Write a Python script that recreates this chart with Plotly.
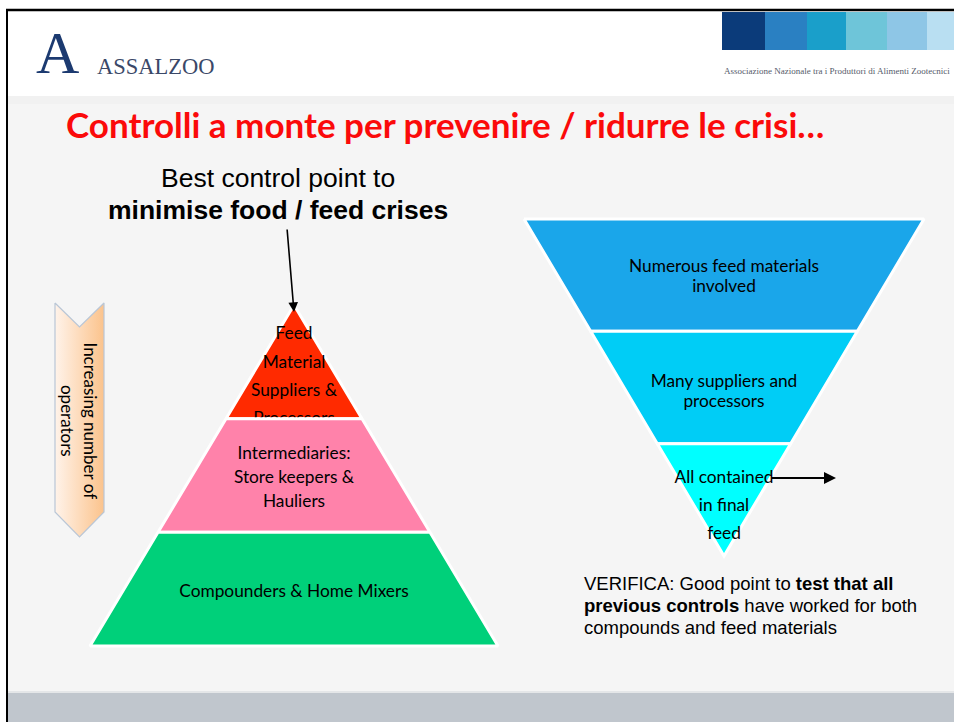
import plotly.graph_objects as go

# ---------------- data ----------------
pyramid_labels = [
    ["Feed", "Material", "Suppliers &", "Processors"],
    ["Intermediaries:", "Store keepers &", "Hauliers"],
    ["Compounders & Home Mixers"],
]
pyramid_colors = ["#ff2a00", "#ff82aa", "#00d07a"]

funnel_labels = [
    ["Numerous feed materials", "involved"],
    ["Many suppliers and", "processors"],
    ["All contained", "in final", "feed"],
]
funnel_colors = ["#1aa6ea", "#00cdf6", "#00ffff"]

header_bar_colors = ["#0b3b7a", "#2a80c2", "#1a9fca", "#6ec5d9", "#8ec6e6", "#b9dff2"]

title_text = "Controlli a monte per prevenire / ridurre le crisi…"
subtitle_lines = ["Best control point to", "<b>minimise food / feed crises</b>"]
side_arrow_text = "Increasing number of<br>operators"
verifica_lines = [
    "VERIFICA: Good point to <b>test that all</b>",
    "<b>previous controls</b> have worked for both",
    "compounds and feed materials",
]

# ---------------- layout constants ----------------
W, H = 954, 722
CAL = "Lato, 'Open Sans', sans-serif"
ARIAL = "'Liberation Sans', Arial, sans-serif"
SERIF = "'Liberation Serif', 'DejaVu Serif', serif"
BODY_FONT = 17.3

fig = go.Figure()
shapes = []
annotations = []

# backgrounds
shapes.append(dict(type="rect", x0=0, x1=W, y0=0, y1=H, fillcolor="white", line_width=0, layer="below"))
shapes.append(dict(type="rect", x0=8, x1=W, y0=96, y1=693, fillcolor="#f5f5f5", line_width=0, layer="below"))
shapes.append(dict(type="rect", x0=8, x1=W, y0=96, y1=104, fillcolor="#f1f1f1", line_width=0, layer="below"))
shapes.append(dict(type="rect", x0=8, x1=W, y0=693, y1=H, fillcolor="#c0c6cd", line_width=0, layer="below"))
shapes.append(dict(type="line", x0=8, x1=W, y0=692, y1=692, line=dict(color="#e4e6e8", width=2), layer="below"))
# frame
shapes.append(dict(type="line", x0=6, x1=W, y0=10, y1=10, line=dict(color="black", width=2.5)))
shapes.append(dict(type="line", x0=7, x1=7, y0=9, y1=H, line=dict(color="black", width=2)))

# header colour bars
edges = [722, 765, 807, 846, 887, 927, 954]
for i, c in enumerate(header_bar_colors):
    shapes.append(dict(type="rect", x0=edges[i], x1=edges[i + 1], y0=12, y1=50,
                       fillcolor=c, line_width=0))
annotations.append(dict(x=837, y=71, text="Associazione Nazionale tra i Produttori di Alimenti Zootecnici",
                        showarrow=False, font=dict(family=SERIF, size=9, color="#555b6a"),
                        xanchor="center", yanchor="middle"))

# logo
annotations.append(dict(x=57, y=53, text="A", showarrow=False,
                        font=dict(family=SERIF, size=60, color="#1c3a70"),
                        xanchor="center", yanchor="middle"))
annotations.append(dict(x=95, y=66, text="ASSALZOO", showarrow=False,
                        font=dict(family=SERIF, size=22.5, color="#3a4868"),
                        xanchor="left", yanchor="middle"))

# title
annotations.append(dict(x=64, y=124, text="<b>" + title_text + "</b>", showarrow=False,
                        font=dict(family=CAL, size=35, color="#fb0a0a"),
                        xanchor="left", yanchor="middle"))

# subtitle
annotations.append(dict(x=278, y=178, text=subtitle_lines[0], showarrow=False,
                        font=dict(family=ARIAL, size=26.5, color="black"), xanchor="center", yanchor="middle"))
annotations.append(dict(x=278, y=210, text=subtitle_lines[1], showarrow=False,
                        font=dict(family=ARIAL, size=26.5, color="black"), xanchor="center", yanchor="middle"))
# arrow to pyramid apex
annotations.append(dict(x=294, y=312, ax=287, ay=228, xref="x", yref="y", axref="x", ayref="y",
                        text="", showarrow=True, arrowhead=2, arrowsize=1.2, arrowwidth=1.6, arrowcolor="black"))

# side chevron arrow
cx0, cx1, ctop, cbot, notch = 55, 104, 303, 512, 24
cmid = (cx0 + cx1) / 2
fig.add_trace(go.Scatter(
    x=[cx0, cmid, cx1, cx1, cmid, cx0, cx0],
    y=[ctop, ctop + notch, ctop, cbot, cbot + notch + 1, cbot, ctop],
    mode="lines", fill="toself",
    fillgradient=dict(type="horizontal", colorscale=[[0, "#fff3ea"], [1, "#fbc38c"]]),
    line=dict(color="#b9c6d6", width=1.2), hoverinfo="skip", showlegend=False))
annotations.append(dict(x=cmid, y=421, text=side_arrow_text, textangle=90, showarrow=False,
                        font=dict(family=CAL, size=17, color="black"),
                        xanchor="center", yanchor="middle"))

# ---------------- pyramid ----------------
p_cx, p_apex, p_base, p_half = 294, 305, 646, 204
p_slope = p_half / (p_base - p_apex)
p_h = (p_base - p_apex) / len(pyramid_labels)
p_line_gap = [28.3, 24, 24]
p_first = [335, 455, 593]
for i, (lab, col) in enumerate(zip(pyramid_labels, pyramid_colors)):
    y0 = p_apex + i * p_h
    y1 = y0 + p_h
    h0 = (y0 - p_apex) * p_slope
    h1 = (y1 - p_apex) * p_slope
    fig.add_trace(go.Scatter(
        x=[p_cx - h0, p_cx + h0, p_cx + h1, p_cx - h1, p_cx - h0],
        y=[y0, y0, y1, y1, y0], mode="lines", fill="toself", fillcolor=col,
        line=dict(color="white", width=3), hoverinfo="skip", showlegend=False))
    fig.add_trace(go.Scatter(
        x=[p_cx] * len(lab), y=[p_first[i] + k * p_line_gap[i] for k in range(len(lab))],
        text=lab, mode="text", textfont=dict(family=CAL, size=BODY_FONT, color="black"),
        hoverinfo="skip", showlegend=False))

# ---------------- inverted pyramid ----------------
f_cx, f_top, f_apex, f_half = 724, 219, 556, 200
f_slope = f_half / (f_apex - f_top)
f_h = (f_apex - f_top) / len(funnel_labels)
f_line_gap = [20, 20, 28]
f_first = [268, 383, 479]
for i, (lab, col) in enumerate(zip(funnel_labels, funnel_colors)):
    y0 = f_top + i * f_h
    y1 = y0 + f_h
    h0 = (f_apex - y0) * f_slope
    h1 = (f_apex - y1) * f_slope
    fig.add_trace(go.Scatter(
        x=[f_cx - h0, f_cx + h0, f_cx + h1, f_cx - h1, f_cx - h0],
        y=[y0, y0, y1, y1, y0], mode="lines", fill="toself", fillcolor=col,
        line=dict(color="white", width=3), hoverinfo="skip", showlegend=False))
    fig.add_trace(go.Scatter(
        x=[f_cx] * len(lab), y=[f_first[i] + k * f_line_gap[i] for k in range(len(lab))],
        text=lab, mode="text", textfont=dict(family=CAL, size=BODY_FONT, color="black"),
        hoverinfo="skip", showlegend=False))

annotations.append(dict(x=836, y=478, ax=770, ay=478, xref="x", yref="y", axref="x", ayref="y",
                        text="", showarrow=True, arrowhead=2, arrowsize=1.2, arrowwidth=2, arrowcolor="black"))

# verifica text
for k, line in enumerate(verifica_lines):
    annotations.append(dict(x=582, y=583 + k * 22, text=line, showarrow=False,
                            font=dict(family=ARIAL, size=18.5, color="black"),
                            xanchor="left", yanchor="middle"))

fig.update_layout(
    width=W, height=H, margin=dict(l=0, r=0, t=0, b=0),
    paper_bgcolor="white", plot_bgcolor="rgba(0,0,0,0)",
    xaxis=dict(range=[0, W], visible=False, fixedrange=True),
    yaxis=dict(range=[H, 0], visible=False, fixedrange=True),
    shapes=shapes, annotations=annotations, showlegend=False,
)
fig.write_html("out.html", config={"displayModeBar": False},
               post_script="document.body.style.margin='0';document.body.style.overflow='hidden';")
